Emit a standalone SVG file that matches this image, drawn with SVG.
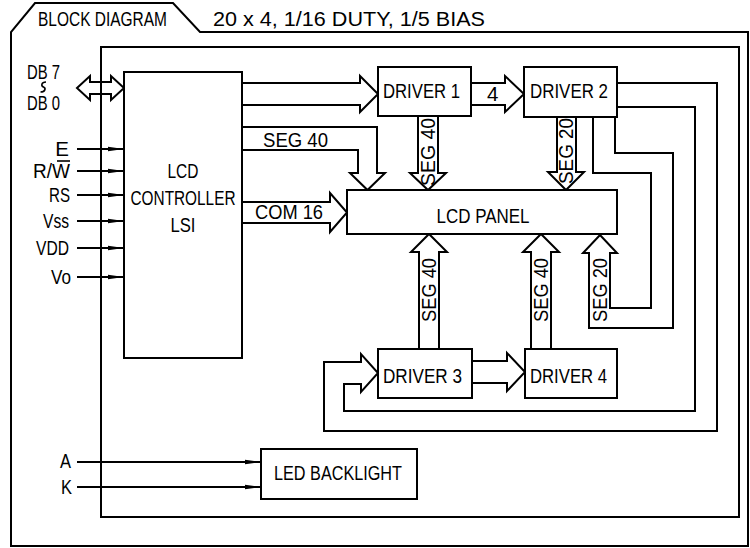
<svg xmlns="http://www.w3.org/2000/svg" width="750" height="548" viewBox="0 0 750 548">
<defs>
<style>
.ln{fill:none;stroke:#000;stroke-width:2;stroke-linejoin:miter}
.bx{fill:#fff;stroke:#000;stroke-width:2}
.t{font-family:"Liberation Sans",Arial,sans-serif;font-size:20.5px;fill:#000}
.m{text-anchor:middle}
.e{text-anchor:end}
.sig{fill:none;stroke:#000;stroke-width:2}
</style>
<marker id="sa" markerWidth="16" markerHeight="6" refX="16" refY="3" orient="auto" markerUnits="userSpaceOnUse">
<path d="M0,0.8 L16,3 L0,5.2 Z" fill="#000"/>
</marker>
</defs>
<rect width="750" height="548" fill="#fff"/>
<g id="frame">
<path class="ln" d="M11,546 V32 L35,3 H173 L200,32 H748 V546 Z"/>
<rect class="ln" x="101" y="47" width="638" height="470"/>
<text class="t" x="38" y="26" textLength="129" lengthAdjust="spacingAndGlyphs">BLOCK DIAGRAM</text>
<text class="t" x="213" y="26" textLength="272" lengthAdjust="spacingAndGlyphs">20 x 4, 1/16 DUTY, 1/5 BIAS</text>
</g>
<g id="connectors">
<path class="ln" d="M77,88 L90,76 V82 H111 V76 L124,88 L111,100 V94 H90 V100 Z"/>
<line class="sig" x1="77" y1="149" x2="124" y2="149" marker-end="url(#sa)"/>
<line class="sig" x1="77" y1="171" x2="124" y2="171" marker-end="url(#sa)"/>
<line class="sig" x1="77" y1="195" x2="124" y2="195" marker-end="url(#sa)"/>
<line class="sig" x1="77" y1="221" x2="124" y2="221" marker-end="url(#sa)"/>
<line class="sig" x1="77" y1="248" x2="124" y2="248" marker-end="url(#sa)"/>
<line class="sig" x1="77" y1="277" x2="124" y2="277" marker-end="url(#sa)"/>
<line class="sig" x1="77" y1="462" x2="261" y2="462" marker-end="url(#sa)"/>
<line class="sig" x1="77" y1="487" x2="261" y2="487" marker-end="url(#sa)"/>
<path class="ln" d="M242,83 H360 V76 L378,94 L360,112 V105 H242"/>
<path class="ln" d="M471,83 H505 V76 L524,94 L505,112 V105 H471"/>
<path class="ln" d="M242,127 H377 V173 H385 L367.5,190 L350,173 H358 V150 H242"/>
<path class="ln" d="M242,202 H330 V193 L347,212.5 L330,232 V223 H242"/>
<path class="ln" d="M418,116 V173 H410 L428,190 L446,173 H438 V116"/>
<path class="ln" d="M557,117 V172 H548 L566,190 L584,172 H576 V117"/>
<path class="ln" d="M419,349 V252 H411 L429,234 L447,252 H439 V349"/>
<path class="ln" d="M531,349 V252 H523 L541,234 L559,252 H551 V349"/>
<path class="ln" d="M593,117 V173 H651 V308 H610 V253 H617 L600,235 L583,253 H589 V328 H673 V153 H615 V117"/>
<path class="ln" d="M617,83 H717 V431 H324 V362 H361 V354 L378,373 L361,392 V384 H344 V411 H695 V107 H617"/>
<path class="ln" d="M472,361 H507 V353 L525,372 L507,391 V383 H472"/>
<path d="M46,82 C41,82 41,86 43.5,87 C46,88 45.5,92 40.5,92" fill="none" stroke="#000" stroke-width="1.6"/>
<line x1="57" y1="161" x2="70" y2="161" stroke="#000" stroke-width="1.6"/>
</g>
<g id="labels">
<text class="t" x="27" y="79" textLength="33" lengthAdjust="spacingAndGlyphs">DB 7</text>
<text class="t" x="27" y="110" textLength="33" lengthAdjust="spacingAndGlyphs">DB 0</text>
<text class="t e" x="69" y="156">E</text>
<text class="t e" x="70" y="178" textLength="37" lengthAdjust="spacingAndGlyphs">R/W</text>
<text class="t e" x="70" y="202" textLength="21" lengthAdjust="spacingAndGlyphs">RS</text>
<text class="t e" x="69" y="228" textLength="26" lengthAdjust="spacingAndGlyphs">Vss</text>
<text class="t e" x="69" y="255" textLength="33" lengthAdjust="spacingAndGlyphs">VDD</text>
<text class="t e" x="71" y="284" textLength="20" lengthAdjust="spacingAndGlyphs">Vo</text>
<text class="t e" x="71" y="468" textLength="11" lengthAdjust="spacingAndGlyphs">A</text>
<text class="t e" x="72" y="494" textLength="11" lengthAdjust="spacingAndGlyphs">K</text>
<text class="t" x="263" y="147" textLength="65" lengthAdjust="spacingAndGlyphs">SEG 40</text>
<text class="t" x="255" y="219" textLength="68" lengthAdjust="spacingAndGlyphs">COM 16</text>
<text class="t" x="487" y="101">4</text>
<text class="t m" transform="translate(435,152) rotate(-90)" textLength="68" lengthAdjust="spacingAndGlyphs">SEG 40</text>
<text class="t m" transform="translate(573,151) rotate(-90)" textLength="66" lengthAdjust="spacingAndGlyphs">SEG 20</text>
<text class="t m" transform="translate(436,290) rotate(-90)" textLength="64" lengthAdjust="spacingAndGlyphs">SEG 40</text>
<text class="t m" transform="translate(548,290) rotate(-90)" textLength="64" lengthAdjust="spacingAndGlyphs">SEG 40</text>
<text class="t m" transform="translate(607,290) rotate(-90)" textLength="64" lengthAdjust="spacingAndGlyphs">SEG 20</text>
</g>
<g id="controller">
<rect class="bx" x="124" y="72" width="118" height="286"/>
<text class="t m" x="183" y="178" textLength="31" lengthAdjust="spacingAndGlyphs">LCD</text>
<text class="t m" x="183" y="205" textLength="105" lengthAdjust="spacingAndGlyphs">CONTROLLER</text>
<text class="t m" x="183" y="232" textLength="25" lengthAdjust="spacingAndGlyphs">LSI</text>
</g>
<g id="driver1">
<rect class="bx" x="378" y="67" width="93" height="49"/>
<text class="t" x="383" y="98" textLength="77" lengthAdjust="spacingAndGlyphs">DRIVER 1</text>
</g>
<g id="driver2">
<rect class="bx" x="524" y="67" width="93" height="50"/>
<text class="t" x="530" y="98" textLength="78" lengthAdjust="spacingAndGlyphs">DRIVER 2</text>
</g>
<g id="panel">
<rect class="bx" x="347" y="190" width="270" height="44"/>
<text class="t m" x="483" y="223" textLength="93" lengthAdjust="spacingAndGlyphs">LCD PANEL</text>
</g>
<g id="driver3">
<rect class="bx" x="378" y="349" width="94" height="49"/>
<text class="t" x="383" y="383" textLength="79" lengthAdjust="spacingAndGlyphs">DRIVER 3</text>
</g>
<g id="driver4">
<rect class="bx" x="525" y="349" width="92" height="49"/>
<text class="t" x="530" y="383" textLength="77" lengthAdjust="spacingAndGlyphs">DRIVER 4</text>
</g>
<g id="backlight">
<rect class="bx" x="261" y="449" width="156" height="50"/>
<text class="t" x="274" y="480" textLength="128" lengthAdjust="spacingAndGlyphs">LED BACKLIGHT</text>
</g>
</svg>
